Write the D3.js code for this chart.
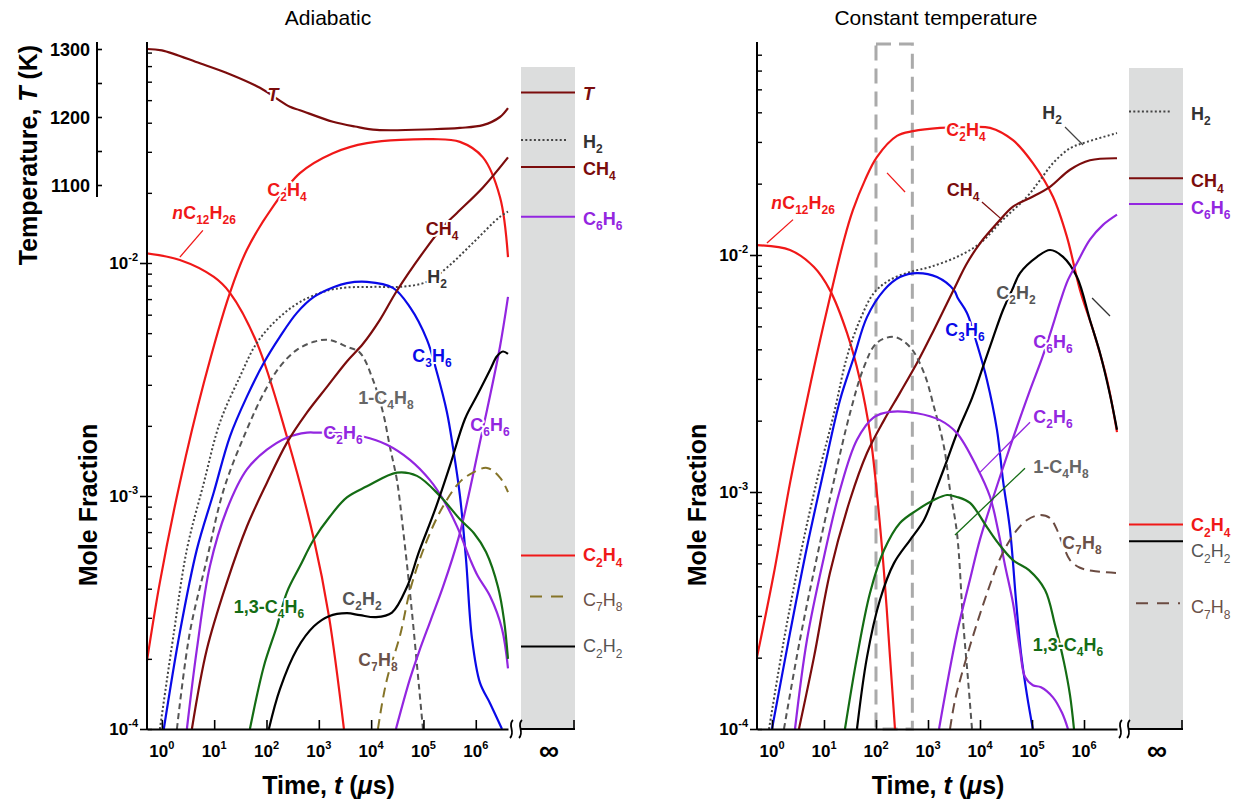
<!DOCTYPE html>
<html><head><meta charset="utf-8">
<script src="https://cdn.jsdelivr.net/npm/d3@7"></script>
<style>
body{margin:0;background:#fff;}
svg{display:block;font-family:Arial,"Liberation Sans",Helvetica,sans-serif;}
</style></head><body>
<svg id="chart" width="1238" height="804"></svg>
<script>
// ================= DATA =================
const xTickExponents = [0, 1, 2, 3, 4, 5, 6];
const yTickExponents = [-4, -3, -2];
const temperatureTicks = [1100, 1200, 1300];
const temperatureMinorTicks = [1150, 1250];

// ---- Adiabatic panel: [time (µs), value] ----
const adiabatic_T = [[0.52,1300],[1,1298],[5.33,1279],[20,1263],[74.8,1243],[280,1215],[435,1210],[1860,1193],[4900,1186],[1.29e4,1181],[1.52e5,1182],[4.99e5,1184],[1.37e6,1188],[2.9e6,1200],[4.13e6,1213]];
const adiabatic_nC12H26 = [[0.516,0.0110],[2.21,0.0103],[9.87,0.00871],[20,0.00745],[65.5,0.00454],[245,0.0018],[805,6.52e-4],[1560,3.05e-4],[3020,1.0e-4]];
const adiabatic_C2H4 = [[0.516,1.94e-4],[0.916,4.26e-4],[2.21,0.00114],[6.35,0.00306],[20,0.00745],[42.2,0.0114],[132,0.0174],[435,0.0243],[1860,0.0296],[8320,0.0327],[1.52e5,0.034],[4.99e5,0.0331],[1.37e6,0.0284],[2.9e6,0.0192],[4.13e6,0.0106]];
const adiabatic_H2 = [[0.916,1e-4],[1.7,2.6e-4],[3.01,5.9e-4],[6.35,0.00114],[12.9,0.00207],[31,0.00325],[65.5,0.00454],[180,0.00587],[519,0.00695],[1630,0.00766],[3440,0.00785],[1.2e4,0.0079],[3.55e4,0.0079],[1.17e5,0.0083],[2.81e5,0.00955],[8.84e5,0.0122],[2.9e6,0.0158],[4.13e6,0.0166]];
const adiabatic_C3H6 = [[1.09,1e-4],[2.21,2.6e-4],[4.67,5.9e-4],[9.87,0.00104],[20,0.0018],[42.2,0.00267],[89.1,0.00373],[180,0.00482],[381,0.00611],[805,0.00715],[1950,0.00789],[3440,0.0082],[8320,0.0083],[2.61e4,0.00782],[5.52e4,0.00646],[1.17e5,0.00468],[1.81e5,0.00339],[2.81e5,0.00229],[3.66e5,0.00162],[4.99e5,0.001],[6.5e5,5.37e-4],[8.46e5,2.45e-4],[1.2e6,1.58e-4],[1.87e6,1.29e-4],[3.17e6,1e-4]];
const adiabatic_1C4H8 = [[1.94,1e-4],[3.43,2.6e-4],[7.25,5.35e-4],[15.3,0.00107],[42.2,0.00193],[89.1,0.00277],[180,0.00359],[381,0.00424],[805,0.00459],[1560,0.00468],[3440,0.00437],[6110,0.00412],[1.08e4,0.00316],[1.68e4,0.00229],[2.29e4,0.00162],[3.11e4,0.00117],[4.06e4,7.24e-4],[5.77e4,3.5e-4],[8.2e4,1.53e-4],[9.78e4,1e-4]];
const adiabatic_C2H6 = [[3.01,1e-4],[4.67,2.2e-4],[8.28,4.99e-4],[17.5,8.75e-4],[42.2,0.0013],[102,0.00158],[245,0.00178],[592,0.00187],[920,0.00187],[2530,0.00186],[6970,0.0018],[2.0e4,0.00166],[5.52e4,0.00143],[1.33e5,0.00117],[2.36e5,9.7e-4],[4.37e5,7.41e-4],[7.74e5,5.37e-4],[1.1e6,4.52e-4],[1.87e6,3.72e-4],[3.17e6,2.69e-4],[4.13e6,1.82e-4]];
const adiabatic_C6H6 = [[2.98e4,1e-4],[5.52e4,1.64e-4],[8.2e4,2.14e-4],[1.39e5,2.95e-4],[2.36e5,4.07e-4],[4.78e5,6.71e-4],[7.74e5,0.00107],[1.2e6,0.0017],[1.64e6,0.00234],[2.9e6,0.00437],[4.13e6,0.00715]];
const adiabatic_CH4 = [[3.75,1e-4],[7.25,2.2e-4],[17.5,4.26e-4],[42.2,7.4e-4],[102,0.00114],[245,0.00169],[592,0.00228],[1430,0.00294],[3440,0.00378],[7000,0.0045],[1.47e4,0.0057],[3.11e4,0.0076],[1.17e5,0.0117],[2.36e5,0.0143],[4.37e5,0.0164],[1.37e6,0.0211],[4.13e6,0.0284]];
const adiabatic_13C4H6 = [[48.2,1e-4],[89.1,1.86e-4],[158,2.76e-4],[245,3.86e-4],[435,4.99e-4],[805,6.52e-4],[1630,8.17e-4],[3440,9.86e-4],[8320,0.0011],[3.11e4,0.00126],[7.51e4,0.00122],[2.07e5,0.001],[4.99e5,7.94e-4],[9.24e5,6.92e-4],[1.57e6,5.75e-4],[2.66e6,4.07e-4],[3.46e6,2.95e-4],[4.13e6,2.0e-4]];
const adiabatic_C2H2 = [[111,1e-4],[180,1.48e-4],[381,2.2e-4],[805,2.76e-4],[1560,3.05e-4],[3440,3.14e-4],[6110,3.08e-4],[1.24e4,3.02e-4],[2.5e4,3.16e-4],[4.84e4,4.07e-4],[8.2e4,5.75e-4],[1.66e5,8.71e-4],[3.21e5,0.00135],[6.21e5,0.00214],[1.05e6,0.00269],[1.87e6,0.00347],[2.54e6,0.00398],[3.31e6,0.00417],[4.13e6,0.00407]];
const adiabatic_C7H8 = [[1.35e4,1e-4],[1.68e4,1.35e-4],[2.1e4,1.7e-4],[3.55e4,2.51e-4],[5.77e4,4.07e-4],[1.17e5,6.46e-4],[2.36e5,9.02e-4],[4.99e5,0.00115],[8.84e5,0.00126],[1.64e6,0.00132],[2.9e6,0.0012],[4.13e6,0.00104]];

const adiabaticEqSpecies = ["T", "H2", "CH4", "C6H6", "C2H4", "C7H8", "C2H2"];
const adiabaticEqValues = [1236, 0.0337, 0.0258, 0.0158, 5.56e-4, 3.7e-4, 2.26e-4];

// ---- Constant temperature panel ----
const constT_nC12H26 = [[0.515,0.011],[2.22,0.0105],[6.42,0.0089],[13,0.00711],[27.7,0.00469],[49.2,0.00297],[76.7,0.00177],[104,9.91e-4],[143,4.55e-4],[186,2.01e-4],[232,1e-4]];
const constT_C2H4 = [[0.515,2.01e-4],[1.09,4.55e-4],[2.22,0.00109],[4.71,0.00244],[10,0.00516],[24.3,0.0116],[36.1,0.0155],[61.4,0.0207],[104,0.0259],[253,0.0318],[515,0.0333],[1700,0.0344],[5150,0.0346],[1.56e4,0.0344],[4.31e4,0.0305],[1.04e5,0.0244],[2.53e5,0.0176],[4.71e5,0.0119],[8.38e5,0.00711],[1.49e6,0.00483],[2.77e6,0.00297],[4.31e6,0.00179]];
const constT_H2 = [[0.876,1e-4],[1.7,2.38e-4],[3.45,5.32e-4],[7.33,0.00112],[15.6,0.00215],[27.7,0.00372],[49.2,0.00532],[91.6,0.00692],[186,0.00785],[451,0.00848],[1090,0.0089],[3610,0.00982],[1.0e4,0.0112],[2.77e4,0.0141],[8.01e4,0.0176],[1.43e5,0.0207],[2.53e5,0.0244],[5.38e5,0.0282],[1.14e6,0.03],[4.31e6,0.0327]];
const constT_C3H6 = [[1,1e-4],[2.22,2.54e-4],[4.71,5.86e-4],[10,0.00124],[20.3,0.00244],[37.8,0.00372],[67.1,0.00547],[143,0.00711],[289,0.00807],[614,0.00839],[1490,0.00807],[3160,0.00711],[3780,0.00655],[5620,0.00569],[9160,0.00407],[1.36e4,0.00297],[2.12e4,0.00183],[2.77e4,0.00112],[3.78e4,6.92e-4],[4.92e4,3.5e-4],[6.14e4,2.09e-4],[8.01e4,1.39e-4],[1.04e5,1e-4]];
const constT_C2H2 = [[43.1,1e-4],[67.1,2.01e-4],[119,3.5e-4],[222,5.01e-4],[451,6.27e-4],[838,7.62e-4],[1490,0.00105],[2320,0.00136],[3610,0.00177],[7020,0.00249],[1.14e4,0.00337],[1.78e4,0.00447],[2.77e4,0.00586],[4.31e4,0.00726],[5.88e4,0.00839],[1.25e5,0.00982],[2.22e5,0.0105],[3.95e5,0.00982],[7.33e5,0.00807],[1.3e6,0.00532],[2.03e6,0.00386],[3.16e6,0.00257],[4.31e6,0.00183]];
const constT_CH4 = [[3.3,1e-4],[6.42,2.01e-4],[13,4.55e-4],[31.6,9.25e-4],[67.1,0.00146],[143,0.00201],[289,0.00262],[614,0.0035],[1300,0.00483],[3610,0.00762],[5380,0.00908],[1.0e4,0.0112],[2.12e4,0.0136],[4.31e4,0.016],[9.16e4,0.0174],[2.22e5,0.0194],[5.38e5,0.0229],[1.3e6,0.0251],[4.31e6,0.0256]];
const constT_1C4H8 = [[1.7,1e-4],[3.45,2.38e-4],[7.33,5.32e-4],[15.6,0.00112],[31.6,0.00215],[58.8,0.00337],[104,0.00426],[222,0.00451],[451,0.00409],[838,0.00318],[1300,0.00229],[2030,0.00155],[2650,0.00102],[3610,6.71e-4],[4710,2.88e-4],[5880,1.62e-4],[7020,1e-4]];
const constT_C2H6 = [[2.77,1e-4],[4.71,2.38e-4],[10,5.32e-4],[20.3,0.00102],[43.1,0.00166],[91.6,0.00207],[186,0.00218],[614,0.00215],[1700,0.00201],[3610,0.00177],[8750,0.00127],[1.56e4,9.55e-4],[2.22e4,6.92e-4],[3.03e4,4.9e-4],[4.31e4,3.4e-4],[5.88e4,2.15e-4],[7.33e4,1.66e-4],[1.04e5,1.53e-4],[1.49e5,1.5e-4],[2.53e5,1.36e-4],[3.78e5,1.17e-4],[4.92e5,1e-4]];
const constT_C6H6 = [[1630,1e-4],[3610,2.54e-4],[6420,4.27e-4],[1.0e4,6.31e-4],[1.94e4,0.001],[3.78e4,0.00155],[9.16e4,0.00269],[1.56e5,0.00367],[2.53e5,0.00507],[3.45e5,0.00631],[4.92e5,0.00785],[7.33e5,0.00925],[1.3e6,0.0116],[2.32e6,0.0134],[4.31e6,0.0148]];
const constT_13C4H6 = [[25.3,1e-4],[43.1,2.01e-4],[76.7,3.75e-4],[143,5.69e-4],[289,7.4e-4],[614,8.39e-4],[1300,9.25e-4],[2320,9.71e-4],[3610,9.53e-4],[6420,8.99e-4],[1.36e4,7.11e-4],[2.22e4,6.1e-4],[4.31e4,5.16e-4],[8.75e4,4.68e-4],[1.78e5,3.86e-4],[2.77e5,2.75e-4],[4.12e5,1.91e-4],[5.38e5,1.39e-4],[6.42e5,1e-4]];
const constT_C7H8 = [[2650,1e-4],[3300,1.32e-4],[4710,1.78e-4],[9160,2.88e-4],[1.56e4,4.07e-4],[2.22e4,5.01e-4],[3.3e4,5.97e-4],[5.15e4,6.92e-4],[8.01e4,7.62e-4],[1.43e5,8.0e-4],[2.22e5,7.76e-4],[3.03e5,6.92e-4],[3.95e5,5.97e-4],[5.38e5,5.16e-4],[8.38e5,4.79e-4],[1.43e6,4.65e-4],[4.31e6,4.55e-4]];

const constTEqSpecies = ["H2", "CH4", "C6H6", "C2H4", "C2H2", "C7H8"];
const constTEqValues = [0.0403, 0.0211, 0.0164, 7.3e-4, 6.2e-4, 3.39e-4];

// leader lines (data coordinates)
const adiabaticLeaders = [{sp:"nC12H26", a:[2.21,0.0106], b:[6.08,0.0138]}];
const constTLeaders = [
  {sp:"nC12H26", a:[0.8,0.01124], b:[2.54,0.0141]},
  {sp:"H2", a:[4.31e5,0.0347], b:[9.57e5,0.0291]},
  {sp:"CH4", a:[1.09e4,0.01675], b:[2.65e4,0.0141]},
  {sp:"C2H6", a:[1.0e4,0.00121], b:[9.16e4,0.00197]},
  {sp:"13C4H6lead", a:[3300,6.59e-4], b:[7.33e4,0.00126]},
  {sp:"C2H4", a:[163,0.0222], b:[362,0.01845]},
  {sp:"C2H2lead", a:[1.43e6,0.00659], b:[3.16e6,0.00553]}
];
// dashed highlight box in constant-temperature panel
const constTBoxTime = [100, 500];
const constTBoxValue = [1e-4, 0.0776];

// ================= STYLES / LAYOUT =================
const RED = "#f01818", MAROON = "#7b0c0c", BLUE = "#0a0ae8", PURPLE = "#9326e0", GREEN = "#146c14";
const lineStyle = {
  T:{c:MAROON}, nC12H26:{c:RED}, C2H4:{c:RED}, H2:{c:"#444", d:"2,2.3"},
  C3H6:{c:BLUE}, "1C4H8":{c:"#555", d:"6,4"}, C2H6:{c:PURPLE}, C6H6:{c:PURPLE},
  CH4:{c:MAROON}, "13C4H6":{c:GREEN}, C2H2:{c:"#000"}, C7H8:{c:"#857428", d:"10,6"},
  "13C4H6lead":{c:GREEN}, "C2H2lead":{c:"#333"}
};
const markup = {T:"~T~", nC12H26:"~n~C_12H_26", C2H4:"C_2H_4", H2:"H_2", C3H6:"C_3H_6", "1C4H8":"1-C_4H_8",
  C2H6:"C_2H_6", C6H6:"C_6H_6", CH4:"CH_4", "13C4H6":"1,3-C_4H_6", C2H2:"C_2H_2", C7H8:"C_7H_8"};
const labelColor = {T:MAROON, nC12H26:RED, C2H4:RED, H2:"#333", C3H6:BLUE, "1C4H8":"#666", C2H6:PURPLE,
  C6H6:PURPLE, CH4:MAROON, "13C4H6":GREEN, C2H2:"#555", C7H8:"#6b5148"};
const LABEL_FS = 18;

const panels = [
  { key:"ad", title:"Adiabatic", titleX:328, x0:147, x1:508, tDomain:[0.52,4.13e6], yDecTop:263,
    infX0:521, infX1:575, shadeTop:67,
    series:{T:adiabatic_T, nC12H26:adiabatic_nC12H26, C2H4:adiabatic_C2H4, H2:adiabatic_H2, C3H6:adiabatic_C3H6,
      "1C4H8":adiabatic_1C4H8, C2H6:adiabatic_C2H6, C6H6:adiabatic_C6H6, CH4:adiabatic_CH4,
      "13C4H6":adiabatic_13C4H6, C2H2:adiabatic_C2H2, C7H8:adiabatic_C7H8},
    eqSpecies:adiabaticEqSpecies, eqValues:adiabaticEqValues,
    eqExtent:{H2:[521,568], C7H8:[530,570]},
    eqLabelDy:{T:7, H2:8, CH4:8, C6H6:8, C2H4:6, C7H8:9, C2H2:6},
    leaders:adiabaticLeaders, c7h8Color:"#857428",
    labels:[["T",273,101],["C2H4",287,196],["nC12H26",204,219],["CH4",442,235],["H2",437,283],["C3H6",432,362],
      ["1C4H8",386,404],["C2H6",343,439],["C6H6",490,431],["13C4H6",269,613],["C2H2",362,605],["C7H8",378,666]],
    yTitleX:97 },
  { key:"ct", title:"Constant temperature", titleX:936, x0:757, x1:1117, tDomain:[0.515,4.31e6], yDecTop:255,
    infX0:1129, infX1:1183, shadeTop:68,
    series:{nC12H26:constT_nC12H26, C2H4:constT_C2H4, H2:constT_H2, C3H6:constT_C3H6, C2H2:constT_C2H2,
      CH4:constT_CH4, "1C4H8":constT_1C4H8, C2H6:constT_C2H6, C6H6:constT_C6H6, "13C4H6":constT_13C4H6, C7H8:constT_C7H8},
    eqSpecies:constTEqSpecies, eqValues:constTEqValues,
    eqExtent:{H2:[1129,1172], C7H8:[1136,1180]},
    eqLabelDy:{H2:8, CH4:9, C6H6:10, C2H4:7, C2H2:16, C7H8:10},
    leaders:constTLeaders, c7h8Color:"#6b4b41",
    labels:[["nC12H26",803,209],["C2H4",966,136],["H2",1052,119],["CH4",963,196],["C2H2",1016,299],["C3H6",965,336],
      ["C6H6",1053,348],["C2H6",1053,423],["1C4H8",1061,473],["C7H8",1082,549],["13C4H6",1068,651]],
    yTitleX:706 }
];

const AXIS_Y = 729, AXIS_TOP = 42;
const svg = d3.select("#chart");
const defs = svg.append("defs");

function rich(sel, mk, fs) {
  const subFs = Math.round(fs * 0.66);
  const re = /~([^~]+)~|_(\d+)|\^(-?\d+)|([^~_^]+)/g;
  let m, cur = 0;
  while ((m = re.exec(mk)) !== null) {
    let txt, size = fs, target = 0, italic = false;
    if (m[1] !== undefined) { txt = m[1]; italic = true; }
    else if (m[2] !== undefined) { txt = m[2]; size = subFs; target = fs * 0.3; }
    else if (m[3] !== undefined) { txt = m[3]; size = subFs; target = -fs * 0.45; }
    else txt = m[4];
    const t = sel.append("tspan").attr("font-size", size).text(txt);
    if (Math.abs(target - cur) > 0.01) t.attr("dy", (target - cur).toFixed(2));
    if (italic) t.attr("font-style", "italic");
    cur = target;
  }
  return sel;
}
function label(g, mk, x, y, color, opts = {}) {
  const fs = opts.fs || LABEL_FS;
  const t = g.append("text").attr("x", x).attr("y", y).attr("text-anchor", opts.anchor || "middle")
    .attr("font-weight", opts.weight || "bold").attr("fill", color).attr("font-size", fs);
  if (opts.halo) t.attr("stroke", "#fff").attr("stroke-width", opts.halo).attr("stroke-linejoin", "round").attr("paint-order", "stroke");
  if (opts.transform) t.attr("transform", opts.transform);
  return rich(t, mk, fs);
}
function breakMark(g, x) {
  g.append("path").attr("d", `M${x+2},${AXIS_Y-9} C${x-4},${AXIS_Y-4} ${x+5},${AXIS_Y+3} ${x-1},${AXIS_Y+9}`)
    .attr("fill", "none").attr("stroke", "#000").attr("stroke-width", 1.8);
}

panels.forEach(p => {
  const g = svg.append("g");
  const x = d3.scaleLog().domain(p.tDomain).range([p.x0, p.x1]);
  const y = d3.scaleLog().domain([1e-4, 1e-2]).range([AXIS_Y, p.yDecTop]);
  const tScale = d3.scaleLinear().domain([1100, 1300]).range([185, 49]);

  g.append("rect").attr("x", p.infX0).attr("y", p.shadeTop).attr("width", p.infX1 - p.infX0)
    .attr("height", AXIS_Y - p.shadeTop).attr("fill", "#dcdddd");

  defs.append("clipPath").attr("id", "clip-" + p.key).append("rect")
    .attr("x", p.x0).attr("y", 20).attr("width", p.x1 - p.x0 + 2).attr("height", AXIS_Y - 20);

  if (p.key === "ct") {
    g.append("rect").attr("x", x(constTBoxTime[0])).attr("y", y(constTBoxValue[1]))
      .attr("width", x(constTBoxTime[1]) - x(constTBoxTime[0]))
      .attr("height", y(constTBoxValue[0]) - y(constTBoxValue[1]))
      .attr("fill", "none").attr("stroke", "#aaa").attr("stroke-width", 3).attr("stroke-dasharray", "15,8");
  }

  const plot = g.append("g").attr("clip-path", `url(#clip-${p.key})`);
  const lineX = d3.line().x(d => x(d[0])).y(d => y(d[1])).curve(d3.curveCatmullRom.alpha(0.5));
  const lineT = d3.line().x(d => x(d[0])).y(d => tScale(d[1])).curve(d3.curveCatmullRom.alpha(0.5));
  Object.entries(p.series).forEach(([name, data]) => {
    const st = lineStyle[name];
    const col = name === "C7H8" ? p.c7h8Color : st.c;
    plot.append("path").datum(data).attr("d", name === "T" ? lineT : lineX)
      .attr("fill", "none").attr("stroke", col).attr("stroke-width", st.d ? 2 : 2.2)
      .attr("stroke-dasharray", st.d || null).attr("stroke-linecap", "butt");
  });

  p.leaders.forEach(l => {
    g.append("line").attr("x1", x(l.a[0])).attr("y1", y(l.a[1])).attr("x2", x(l.b[0])).attr("y2", y(l.b[1]))
      .attr("stroke", lineStyle[l.sp].c).attr("stroke-width", 1.3);
  });

  p.labels.forEach(([sp, lx, ly]) => label(g, markup[sp], lx, ly, labelColor[sp], {halo: 4}));

  p.eqSpecies.forEach((sp, i) => {
    const v = p.eqValues[i];
    const yy = sp === "T" ? tScale(v) : y(v);
    const ext = p.eqExtent[sp] || [p.infX0, p.infX1];
    const st = lineStyle[sp];
    const col = sp === "C7H8" ? p.c7h8Color : st.c;
    g.append("line").attr("x1", ext[0]).attr("x2", ext[1]).attr("y1", yy).attr("y2", yy)
      .attr("stroke", col).attr("stroke-width", 2).attr("stroke-dasharray", sp === "C7H8" ? "12,9" : (st.d || null));
    const lc = sp === "H2" ? "#333" : (sp === "C2H2" ? "#555" : labelColor[sp]);
    label(g, markup[sp], p.infX1 + 8, yy + p.eqLabelDy[sp], lc, {anchor: "start", weight: sp === "C2H2" || sp === "C7H8" ? "normal" : "bold"});
  });

  // x axis
  const xa = g.append("g").attr("transform", `translate(0,${AXIS_Y})`)
    .call(d3.axisBottom(x).tickValues(xTickExponents.map(e => Math.pow(10, e))).tickSizeInner(-9).tickSizeOuter(0).tickFormat(() => ""));
  xa.select(".domain").attr("stroke-width", 2);
  xa.selectAll(".tick line").attr("stroke-width", 1.6);
  xa.selectAll(".tick text").remove();
  xTickExponents.forEach(e => label(g, "10^" + e, x(Math.pow(10, e)), 757, "#000", {fs: 17}));
  breakMark(g, p.x1 + 3);
  breakMark(g, p.infX0 - 1);
  g.append("line").attr("x1", p.infX0).attr("x2", p.infX1).attr("y1", AXIS_Y).attr("y2", AXIS_Y).attr("stroke", "#000").attr("stroke-width", 2);
  g.append("line").attr("x1", p.infX1 - 1).attr("x2", p.infX1 - 1).attr("y1", AXIS_Y).attr("y2", AXIS_Y - 9).attr("stroke", "#000").attr("stroke-width", 1.6);
  g.append("text").attr("x", (p.infX0 + p.infX1) / 2 + 1).attr("y", 760).attr("text-anchor", "middle")
    .attr("font-size", 28).attr("font-weight", "bold").text("∞");

  // y axis
  g.append("line").attr("x1", p.x0).attr("x2", p.x0).attr("y1", AXIS_TOP).attr("y2", AXIS_Y).attr("stroke", "#000").attr("stroke-width", 2);
  const majors = yTickExponents.map(e => Math.pow(10, e));
  const minors = [];
  [-4, -3, -2].forEach(d => { for (let m = 2; m <= 9; m++) { const v = m * Math.pow(10, d); if (y(v) >= AXIS_TOP + 2) minors.push(v); } });
  const ya = g.append("g").attr("transform", `translate(${p.x0},0)`)
    .call(d3.axisLeft(y).tickValues(majors).tickSizeInner(7).tickSizeOuter(0).tickFormat(() => ""));
  ya.select(".domain").remove(); ya.selectAll(".tick text").remove(); ya.selectAll(".tick line").attr("stroke-width", 1.6);
  const ym = g.append("g").attr("transform", `translate(${p.x0},0)`)
    .call(d3.axisRight(y).tickValues(minors.concat(majors)).tickSizeInner(5).tickSizeOuter(0).tickFormat(() => ""));
  ym.select(".domain").remove(); ym.selectAll(".tick text").remove(); ym.selectAll(".tick line").attr("stroke-width", 1.4);
  yTickExponents.forEach(e => label(g, "10^" + e, p.x0 - 9, y(Math.pow(10, e)) + 6, "#000", {anchor: "end", fs: 17}));

  if (p.key === "ad") {
    const tx = 97;
    g.append("line").attr("x1", tx).attr("x2", tx).attr("y1", AXIS_TOP).attr("y2", 197).attr("stroke", "#000").attr("stroke-width", 2);
    const ta = g.append("g").attr("transform", `translate(${tx},0)`)
      .call(d3.axisRight(tScale).tickValues(temperatureTicks.concat(temperatureMinorTicks)).tickSizeInner(5).tickSizeOuter(0).tickFormat(() => ""));
    ta.select(".domain").remove(); ta.selectAll(".tick text").remove(); ta.selectAll(".tick line").attr("stroke-width", 1.6);
    temperatureTicks.forEach(v => g.append("text").attr("x", tx - 7).attr("y", tScale(v) + 6.5).attr("text-anchor", "end")
      .attr("font-size", 18).attr("font-weight", "bold").text(v));
    label(g, "Temperature, ~T~ (K)", 0, 0, "#000", {fs: 25, transform: "translate(37,155) rotate(-90)"});
  }

  g.append("text").attr("x", p.titleX).attr("y", 25).attr("text-anchor", "middle").attr("font-size", 21).text(p.title);
  label(g, "Time, ~t~ (~μ~s)", (p.x0 + p.x1) / 2 + 1, 794, "#000", {fs: 25});
  label(g, "Mole Fraction", 0, 0, "#000", {fs: 25, transform: `translate(${p.yTitleX},505) rotate(-90)`});
});
</script>
</body></html>
